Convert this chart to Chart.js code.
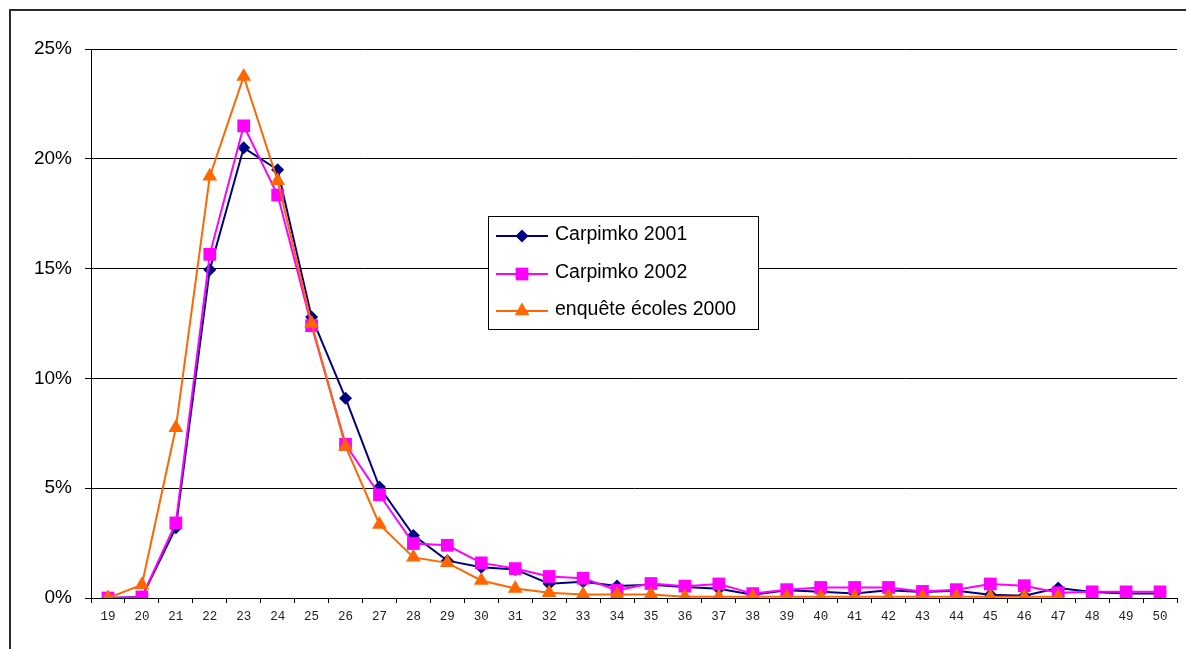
<!DOCTYPE html>
<html>
<head>
<meta charset="utf-8">
<script src="https://cdn.jsdelivr.net/npm/chart.js@4.4.1/dist/chart.umd.min.js"></script>
<style>
  html, body { margin: 0; padding: 0; background: #fff; overflow: hidden; }
  #wrap { position: relative; width: 1186px; height: 649px; overflow: hidden; }
  canvas { position: absolute; left: 0; top: 0; }
</style>
</head>
<body>
<div id="wrap">
  <canvas id="c" width="1186" height="649"></canvas>
</div>
<script>
// Age at graduation (years)
const ages = ['19','20','21','22','23','24','25','26','27','28','29','30','31','32','33','34',
              '35','36','37','38','39','40','41','42','43','44','45','46','47','48','49','50'];

// Share of each age, in percent
const carpimko2001 = [0, 0.05, 3.2, 14.95, 20.5, 19.5, 12.8, 9.1, 5.05, 2.85, 1.7, 1.4, 1.3, 0.65, 0.74, 0.55,
                      0.6, 0.5, 0.42, 0.15, 0.35, 0.28, 0.2, 0.35, 0.27, 0.33, 0.15, 0.1, 0.45, 0.27, 0.2, 0.2];
const carpimko2002 = [0, 0.05, 3.42, 15.65, 21.5, 18.35, 12.4, 7.0, 4.7, 2.48, 2.4, 1.6, 1.34, 0.98, 0.9, 0.36,
                      0.66, 0.54, 0.64, 0.2, 0.38, 0.48, 0.48, 0.48, 0.3, 0.38, 0.64, 0.56, 0.24, 0.28, 0.28, 0.28];
const enqueteEcoles2000 = [0, 0.6, 7.75, 19.2, 23.75, 19.0, 12.5, 6.9, 3.35, 1.85, 1.6, 0.8, 0.43, 0.24, 0.16, 0.16,
                           0.16, 0.06, 0.06, 0.06, 0.06, 0.06, 0.06, 0.06, 0.06, 0.06, 0.06, 0.06, 0.06, null, null, null];

const seriesNames = ['Carpimko 2001', 'Carpimko 2002', 'enquête écoles 2000'];
const yTicks = [0, 5, 10, 15, 20, 25];

const FONT = '"Liberation Sans", Arial, sans-serif';

// Outer frame: top and left edges of the chart border
const frame = {
  id: 'frame',
  beforeDraw(chart) {
    const ctx = chart.ctx;
    ctx.save();
    ctx.strokeStyle = '#2a2a2a';
    ctx.lineWidth = 2;
    ctx.beginPath();
    ctx.moveTo(10, 700);
    ctx.lineTo(10, 10);
    ctx.lineTo(1200, 10);
    ctx.stroke();
    ctx.restore();
  }
};

// Legend box drawn inside the plot area
const boxLegend = {
  id: 'boxLegend',
  afterDatasetsDraw(chart) {
    const ctx = chart.ctx;
    const x0 = 488.5, y0 = 216.5, w = 270, h = 113;
    const rows = [236, 274, 311];
    ctx.save();
    ctx.fillStyle = '#fff';
    ctx.fillRect(x0, y0, w, h);
    ctx.strokeStyle = '#000';
    ctx.lineWidth = 1;
    ctx.strokeRect(x0, y0, w, h);
    chart.data.datasets.forEach((ds, i) => {
      const y = rows[i];
      ctx.strokeStyle = ds.borderColor;
      ctx.lineWidth = ds.borderWidth;
      ctx.beginPath();
      ctx.moveTo(496, y);
      ctx.lineTo(548, y);
      ctx.stroke();
      ctx.fillStyle = ds.pointBackgroundColor;
      ctx.beginPath();
      Chart.helpers.drawPoint(ctx, {
        pointStyle: ds.pointStyle,
        radius: ds.pointRadius,
        borderWidth: 0,
        rotation: 0
      }, 522, y);
      ctx.fillStyle = '#000';
      ctx.font = '19.5px ' + FONT;
      ctx.textBaseline = 'middle';
      ctx.textAlign = 'left';
      ctx.fillText(ds.label, 555, y - 1);
    });
    ctx.restore();
  }
};

new Chart(document.getElementById('c'), {
  type: 'line',
  data: {
    labels: ages,
    datasets: [
      {
        label: seriesNames[0],
        data: carpimko2001,
        borderColor: '#000080',
        backgroundColor: '#000080',
        pointBackgroundColor: '#000080',
        pointStyle: 'rectRot',
        pointRadius: 6.5,
        borderWidth: 2,
        order: 3
      },
      {
        label: seriesNames[1],
        data: carpimko2002,
        borderColor: '#ff00ff',
        backgroundColor: '#ff00ff',
        pointBackgroundColor: '#ff00ff',
        pointStyle: 'rect',
        pointRadius: 9,
        borderWidth: 2,
        order: 2
      },
      {
        label: seriesNames[2],
        data: enqueteEcoles2000,
        borderColor: '#ff6600',
        backgroundColor: '#ff6600',
        pointBackgroundColor: '#ff6600',
        pointStyle: 'triangle',
        pointRadius: 8.5,
        borderWidth: 2,
        order: 1
      }
    ]
  },
  options: {
    responsive: false,
    animation: false,
    events: [],
    layout: { padding: { left: 0, right: 6, top: 49, bottom: 0 } },
    elements: {
      line: { tension: 0, fill: false },
      point: { borderWidth: 0, hoverRadius: 0 }
    },
    datasets: { line: { spanGaps: false, pointBorderWidth: 0 } },
    plugins: {
      legend: { display: false },
      tooltip: { enabled: false },
      title: { display: false }
    },
    scales: {
      x: {
        type: 'category',
        offset: true,
        grid: {
          offset: true,
          drawOnChartArea: false,
          drawTicks: true,
          tickLength: 5,
          color: '#000'
        },
        border: { display: true, color: '#000', width: 1 },
        ticks: {
          autoSkip: false,
          maxRotation: 0,
          minRotation: 0,
          padding: 6,
          color: '#222',
          font: { family: '"Liberation Mono", "DejaVu Sans Mono", monospace', size: 12.5 }
        },
        afterFit(scale) { scale.height = 51; }
      },
      y: {
        min: 0,
        max: 25,
        afterBuildTicks(scale) { scale.ticks = yTicks.map(v => ({ value: v })); },
        grid: {
          drawTicks: true,
          tickLength: 6,
          color: '#000',
          lineWidth: 1
        },
        border: { display: true, color: '#000', width: 1 },
        ticks: {
          padding: 13,
          color: '#000',
          font: { family: FONT, size: 19 },
          callback: v => v + '%'
        },
        afterFit(scale) { scale.width = 91; }
      }
    }
  },
  plugins: [frame, boxLegend]
});
</script>
</body>
</html>
